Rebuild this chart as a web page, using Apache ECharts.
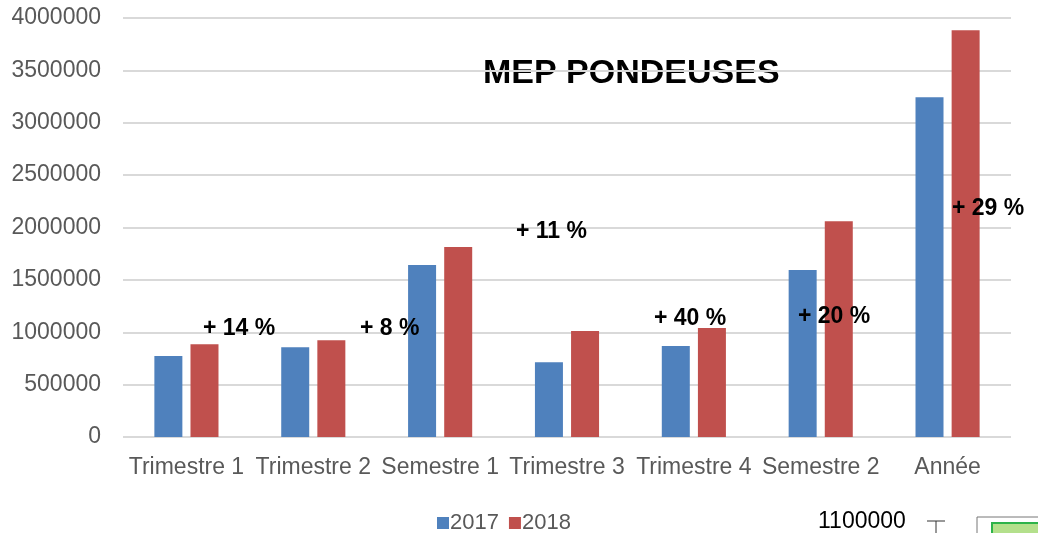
<!DOCTYPE html>
<html>
<head>
    <meta charset="UTF-8">
    <title>MEP PONDEUSES</title>
    <script src="https://cdn.jsdelivr.net/npm/echarts@6/dist/echarts.min.js"></script>
</head>
<style type="text/css">
    body {
        margin: 0;
        padding: 0;
    }
</style>
<body>
<div id="main" style="height: 533px;width: 1038px;"></div>
</body>
<script type="text/javascript">
    const categories = ['Trimestre 1', 'Trimestre 2', 'Semestre 1', 'Trimestre 3', 'Trimestre 4', 'Semestre 2', 'Année'];
    const values2017 = [773000, 856000, 1642000, 713000, 869000, 1594000, 3243000];
    const values2018 = [885000, 923000, 1814000, 1012000, 1041000, 2059000, 3883000];
    const notes = ['+ 14 %', '+ 8 %', '+ 11 %', '+ 40 %', '+ 20 %', '+ 29 %'];

    const chart = echarts.init(document.getElementById('main'));
    const font = '"Liberation Sans", Arial, sans-serif';
    // where the percentage notes sit (left, middle y), as in the original slide
    const notePos = [[203, 328], [360, 328], [516, 231], [654, 318], [798, 316], [952, 208]];

    const graphics = notes.map((t, i) => ({
        type: 'text',
        left: notePos[i][0],
        top: notePos[i][1] - 11,
        z: 100,
        style: {text: t, fill: '#000', font: 'bold 23px ' + font}
    }));
    graphics.push(
        {type: 'text', left: 483, top: 57, style: {text: 'MEP PONDEUSES', fill: '#000', font: 'bold 34px ' + font}},
        {type: 'text', left: 818, top: 510, style: {text: '1100000', fill: '#000', font: '23px ' + font}},
        {type: 'line', shape: {x1: 927, y1: 521, x2: 945, y2: 521}, style: {stroke: '#333', lineWidth: 1}},
        {type: 'line', shape: {x1: 936, y1: 521, x2: 936, y2: 533}, style: {stroke: '#333', lineWidth: 1}},
        {type: 'rect', shape: {x: 977, y: 517, width: 80, height: 30}, style: {fill: '#fff', stroke: '#777', lineWidth: 1}},
        {type: 'rect', shape: {x: 992, y: 523, width: 70, height: 30}, style: {fill: '#b4e08c', stroke: '#2eb34a', lineWidth: 2}}
    );

    chart.setOption({
        animation: false,
        grid: {left: 123, right: 27, top: 18, bottom: 96},
        legend: {
            left: 432,
            top: 507,
            itemWidth: 12,
            itemHeight: 12,
            itemGap: 10,
            icon: 'rect',
            textStyle: {fontFamily: font, fontSize: 22, color: '#595959', padding: [0, 0, 0, -4]},
            data: ['2017', '2018']
        },
        xAxis: {
            type: 'category',
            data: categories,
            axisLine: {show: false},
            axisTick: {show: false},
            axisLabel: {fontFamily: font, fontSize: 23, color: '#595959', margin: 19, interval: 0}
        },
        yAxis: {
            type: 'value',
            min: 0,
            max: 4000000,
            interval: 500000,
            axisLabel: {fontFamily: font, fontSize: 23, color: '#595959', margin: 22, formatter: v => String(v)},
            splitLine: {lineStyle: {color: '#d9d9d9', width: 2}}
        },
        series: [
            {name: '2017', type: 'bar', data: values2017, barWidth: 28, barGap: '29%', itemStyle: {color: '#4f81bd'}},
            {name: '2018', type: 'bar', data: values2018, barWidth: 28, itemStyle: {color: '#c0504d'}}
        ],
        graphic: graphics
    });
</script>
</html>
